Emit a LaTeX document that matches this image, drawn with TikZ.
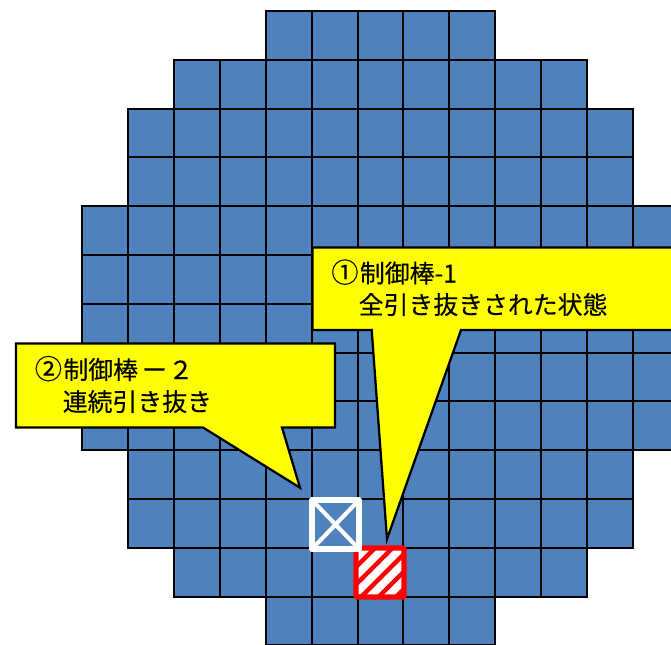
\documentclass[tikz,border=0pt]{standalone}
\usepackage{fontspec}
\setmainfont{Noto Sans CJK JP}[FakeBold=0.25]
\definecolor{cellblue}{RGB}{79,129,189}
\definecolor{calloutyellow}{RGB}{255,255,0}
\definecolor{rodred}{RGB}{255,0,0}
\tikzset{
  cellline/.style={draw=black,line width=1.9pt,line cap=rect},
  callout/.style={draw=black,line width=1.7pt,fill=calloutyellow,line join=miter},
  label/.style={anchor=base west,inner sep=0pt,font=\fontsize{18.65pt}{22pt}\selectfont,text=black},
}
\newcommand{\circnum}[1]{{\fontsize{20.5pt}{22pt}\selectfont #1}\hspace{1pt}}
\begin{document}
\begin{tikzpicture}[x=0.75pt,y=-0.75pt]
\useasboundingbox (0,0) rectangle (671,644);
\begin{scope}
\clip (0,0) rectangle (671,644);
\foreach \r/\a/\b in {0/4/8,1/2/10,2/1/11,3/1/11,4/0/12,5/0/12,6/0/12,7/0/12,8/0/12,9/1/11,10/1/11,11/2/10,12/4/8}{
  \pgfmathsetmacro{\xa}{round(82.2+\a*45.9)}
  \pgfmathsetmacro{\xb}{round(82.2+(\b+1)*45.9)}
  \pgfmathsetmacro{\ya}{round(11+\r*48.8)}
  \pgfmathsetmacro{\yb}{round(11+(\r+1)*48.8)}
  \fill[cellblue] (\xa,\ya) rectangle (\xb,\yb);
}
\foreach \r/\a/\b in {0/4/8,1/2/10,2/1/11,3/1/11,4/0/12,5/0/12,6/0/12,7/0/12,8/0/12,9/1/11,10/1/11,11/2/10,12/4/8}{
  \pgfmathsetmacro{\ya}{round(11+\r*48.8)}
  \pgfmathsetmacro{\yb}{round(11+(\r+1)*48.8)}
  \foreach \c in {\a,...,\b}{
    \pgfmathsetmacro{\xa}{round(82.2+\c*45.9)}
    \pgfmathsetmacro{\xb}{round(82.2+(\c+1)*45.9)}
    \draw[cellline] (\xa,\ya) rectangle (\xb,\yb);
  }
}
\end{scope}
% hatched rod
\fill[white] (356,548) rectangle (404,597);
\begin{scope}
\clip (356,548) rectangle (404,597);
\foreach \k in {-2,...,4}{
  \draw[rodred,line width=3.4pt] ({358+\k*17.5},600) -- ({358+\k*17.5+56},544);
}
\end{scope}
\draw[rodred,line width=3.9pt,rounded corners=0.8pt] (356,548) rectangle (404,597);
% crossed rod
\coordinate (wa) at (312,500);
\coordinate (wb) at (359,500);
\coordinate (wc) at (359,549);
\coordinate (wd) at (312,549);
\draw[white,line width=3.9pt,line join=round] (wa) -- (wb) -- (wc) -- (wd) -- cycle;
\draw[white,line width=3.1pt] (wa) -- (wc) (wb) -- (wd);
% callouts
\draw[callout] (312.5,247.5) -- (675,247.5) -- (675,330) -- (461,330) -- (387,539) -- (371.7,330) -- (312.5,330) -- cycle;
\node[label] (t1a) at (331,282.5) {\circnum{①}制御棒-1};
\node[label] (t1b) at (358.5,314) {全引き抜きされた状態};
\draw[callout] (16,343.5) -- (335,343.5) -- (335,427.5) -- (282,427.5) -- (300,487.7) -- (203,427.5) -- (16,427.5) -- cycle;
\node[label] (t2a) at (34.5,379) {\circnum{②}制御棒\hspace{3pt}ー\hspace{1pt}２};
\node[label] (t2b) at (62.5,411) {連続引き抜き};
\end{tikzpicture}
\end{document}
